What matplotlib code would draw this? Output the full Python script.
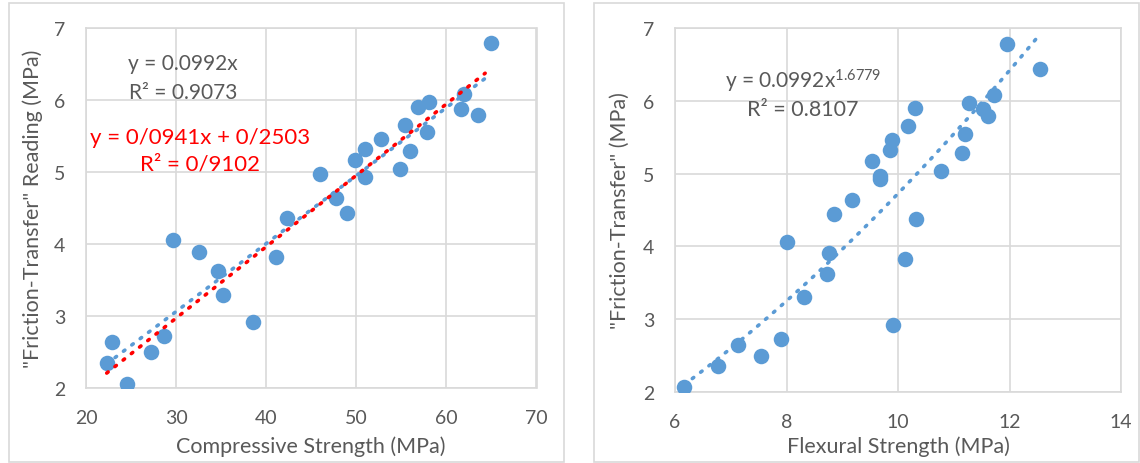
import matplotlib
matplotlib.use('Agg')
import matplotlib.pyplot as plt
from matplotlib.patches import Rectangle
import numpy as np

# compressive strength vs reading (left panel)
comp_x = [64.9, 61.9, 61.6, 63.5, 58.1, 56.9, 55.4, 57.9, 52.7, 51.0,
          56.0, 49.9, 54.9, 51.0, 46.0, 47.8, 49.0, 42.3, 41.1, 29.7,
          32.5, 34.7, 35.2, 38.5, 28.7, 27.2, 22.9, 22.3, 24.6]
comp_y = [6.80, 6.09, 5.88, 5.80, 5.97, 5.91, 5.66, 5.56, 5.46, 5.33,
          5.29, 5.17, 5.04, 4.93, 4.97, 4.64, 4.44, 4.37, 3.83, 4.06,
          3.90, 3.63, 3.30, 2.92, 2.73, 2.50, 2.64, 2.35, 2.06]

# flexural strength vs reading (right panel)
flex_x = [11.95, 12.55, 11.73, 11.27, 10.31, 11.52, 11.62, 10.18, 11.20, 9.90,
          9.85, 11.14, 9.54, 10.78, 9.68, 9.68, 9.17, 8.85, 10.33, 10.12,
          8.01, 8.77, 8.73, 8.31, 9.91, 7.90, 7.54, 7.13, 6.78, 6.16]
flex_y = [6.79, 6.44, 6.08, 5.97, 5.91, 5.89, 5.79, 5.66, 5.55, 5.46,
          5.33, 5.29, 5.17, 5.04, 4.97, 4.93, 4.64, 4.44, 4.37, 3.83,
          4.06, 3.91, 3.62, 3.30, 2.92, 2.73, 2.49, 2.64, 2.36, 2.07]

left_xticks = [20, 30, 40, 50, 60, 70]
right_xticks = [6, 8, 10, 12, 14]
yticks = [2, 3, 4, 5, 6, 7]

blue = '#5B9BD5'
grid_c = '#D9D9D9'
txt_c = '#595959'
font = 'Lato'

plt.rcParams['font.family'] = [font, 'DejaVu Sans']
plt.rcParams['mathtext.default'] = 'regular'

W, H = 1140, 464
fig = plt.figure(figsize=(W / 100, H / 100), dpi=100)

# chart area borders
fig.patches.append(Rectangle((9 / W, 1 - 463 / H), 555 / W, 459 / H,
                             transform=fig.transFigure, fill=False, ec=grid_c, lw=1.2))
fig.patches.append(Rectangle((594 / W, 1 - 463 / H), 545 / W, 459 / H,
                             transform=fig.transFigure, fill=False, ec=grid_c, lw=1.2))


def style_axes(ax, xticks, xlabel, ylabel, ylab_x, xlab_y):
    ax.set_xticks(xticks)
    ax.set_yticks(yticks)
    ax.set_xlim(xticks[0], xticks[-1])
    ax.set_ylim(2, 7)
    ax.grid(True, color=grid_c, lw=1.2)
    ax.set_axisbelow(True)
    for s in ax.spines.values():
        s.set_color(grid_c)
        s.set_linewidth(1.2)
    ax.tick_params(length=0, labelsize=14, colors=txt_c)
    ax.tick_params(axis='x', pad=15)
    ax.tick_params(axis='y', pad=15)
    xl = ax.set_xlabel(xlabel, fontsize=15.5, color=txt_c)
    yl = ax.set_ylabel(ylabel, fontsize=15.5, color=txt_c)
    xl.set_va('center')
    yl.set_va('center')
    ax.xaxis.set_label_coords(0.5, xlab_y)
    ax.yaxis.set_label_coords(ylab_x, 0.5)


# left panel
ax1 = fig.add_axes([86 / W, 1 - 389.3 / H, 450.5 / W, 360 / H])
style_axes(ax1, left_xticks, 'Compressive Strength (MPa)', '"Friction-Transfer" Reading (MPa)',
           -0.118, -0.160)
ax1.scatter(comp_x, comp_y, s=125, color=blue, zorder=3, lw=0)

cx = np.array(comp_x)
cy = np.array(comp_y)
xs = np.linspace(cx.min(), 64.3, 100)
a, b = np.polyfit(cx, cy, 1)
k = np.sum(cx * cy) / np.sum(cx * cx)
ax1.plot(xs, a * xs + b, color=blue, lw=2.6, ls=(0, (0.5, 2.4)),
         dash_capstyle='round', zorder=4)
ax1.plot(xs, k * xs, color='red', lw=2.6, ls=(0, (0.5, 2.4)),
         dash_capstyle='round', zorder=4)

ax1.text(30.8, 6.52, 'y = 0.0992x', ha='center', va='center', fontsize=15, color=txt_c)
ax1.text(30.8, 6.12, 'R² = 0.9073', ha='center', va='center', fontsize=15, color=txt_c)
ax1.text(32.7, 5.49, 'y = 0/0941x + 0/2503', ha='center', va='center', fontsize=16, color='red')
ax1.text(32.7, 5.12, 'R² = 0/9102', ha='center', va='center', fontsize=16, color='red')

# right panel
ax2 = fig.add_axes([675 / W, 1 - 392.7 / H, 446 / W, 363.4 / H])
style_axes(ax2, right_xticks, 'Flexural Strength (MPa)', '"Friction-Transfer" (MPa)',
           -0.124, -0.149)
ax2.scatter(flex_x, flex_y, s=125, color=blue, zorder=3, lw=0)

fx = np.array(flex_x)
fy = np.array(flex_y)
p, lc = np.polyfit(np.log(fx), np.log(fy), 1)
xs2 = np.linspace(fx.min(), fx.max(), 100)
ax2.plot(xs2, np.exp(lc) * xs2 ** p, color=blue, lw=2.6, ls=(0, (0.5, 2.4)),
         dash_capstyle='round', zorder=4)

ax2.text(6.89, 6.28, 'y = 0.0992x$^{1.6779}$', ha='left', va='center', fontsize=15, color=txt_c)
ax2.text(7.29, 5.89, 'R² = 0.8107', ha='left', va='center', fontsize=15.5, color=txt_c)

fig.savefig('out.png', dpi=100)
